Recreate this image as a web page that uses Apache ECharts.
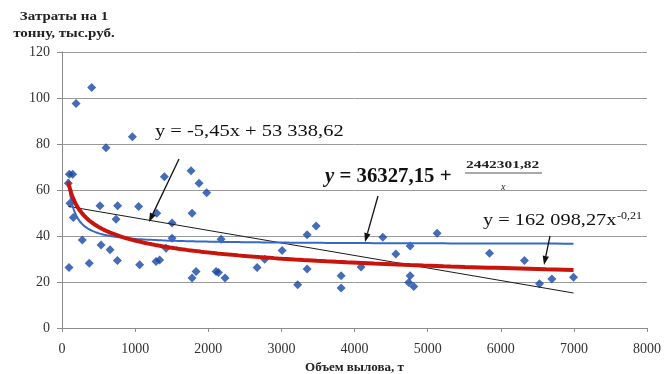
<!DOCTYPE html>
<html>
<head>
<meta charset="utf-8">
<script src="https://cdn.jsdelivr.net/npm/echarts@6/dist/echarts.min.js"></script>
<style>
  html, body { margin: 0; padding: 0; background: #fff; }
  #chart { width: 672px; height: 374px; }
</style>
</head>
<body>
<div id="chart"></div>
<script>
// Catch volume (t) per enterprise and cost per tonne (thousand rubles)
const volumes = [192, 406, 962, 602, 100, 146, 86, 109, 155, 278,
  96, 520, 761, 739, 534, 657, 757, 373, 1048, 1062,
  1296, 1286, 1335, 1400, 1505, 1505, 1423, 1765, 1874, 1979,
  1779, 2175, 1833, 1779, 2107, 2139, 2230, 2668, 2772, 3010,
  3223, 3352, 3475, 3352, 3817, 3817, 4090, 4387, 4565, 4761,
  4761, 4742, 4810, 5130, 5846, 6324, 6530, 6699, 6995];
const costs = [97.6, 104.6, 83.1, 78.4, 66.9, 66.9, 62.9, 54.2, 48.0, 38.3,
  26.3, 53.1, 53.1, 47.3, 36.1, 34.0, 29.3, 28.2, 52.8, 27.5,
  49.9, 28.9, 29.6, 65.8, 45.6, 39.0, 34.7, 68.4, 62.9, 58.8,
  49.9, 38.6, 24.6, 21.7, 24.6, 24.1, 21.7, 26.3, 29.9, 33.7,
  18.8, 40.5, 44.4, 25.6, 22.7, 17.4, 26.5, 39.5, 32.2, 35.7,
  22.7, 19.8, 18.0, 41.2, 32.5, 29.3, 19.2, 21.3, 22.1];

// Trend equations (y in rubles) — plotted in thousand rubles
const linearCoef = [-5.45, 53338.62];        // y = a*x + b
const hyperbolaCoef = [36327.15, 2442301.82]; // y = a + b/x
const powerCoef = [162098.27, -0.21];         // y = a*x^b
const rubPerUnit = 1000;

const xMin = Math.min(...volumes);
const xMax = Math.max(...volumes);

function sampleTrend(fn) {
  const pts = [];
  const n = 240;
  for (let i = 0; i <= n; i++) {
    const x = xMin * Math.pow(xMax / xMin, i / n);
    pts.push([x, fn(x) / rubPerUnit]);
  }
  return pts;
}
const linearLine = [xMin, xMax].map(x => [x, (linearCoef[0] * x + linearCoef[1]) / rubPerUnit]);
const hyperbolaLine = sampleTrend(x => hyperbolaCoef[0] + hyperbolaCoef[1] / x);
const powerLine = sampleTrend(x => powerCoef[0] * Math.pow(x, powerCoef[1]));

const serif = '"Liberation Serif", "Times New Roman", serif';
const arrow = (x1, y1, x2, y2) => {
  const ang = Math.atan2(y2 - y1, x2 - x1);
  const L = 9, W = 3.2;
  const bx = x2 - L * Math.cos(ang), by = y2 - L * Math.sin(ang);
  const px = -Math.sin(ang) * W, py = Math.cos(ang) * W;
  return [
    { type: 'line', shape: { x1, y1, x2: bx, y2: by }, style: { stroke: '#111', lineWidth: 1.3 }, z: 20 },
    { type: 'polygon', shape: { points: [[x2, y2], [bx + px, by + py], [bx - px, by - py]] }, style: { fill: '#111' }, z: 20 }
  ];
};
const plain = v => String(v);

const chart = echarts.init(document.getElementById('chart'));
chart.setOption({
  animation: false,
  backgroundColor: '#fff',
  grid: { left: 62, right: 25, top: 52, bottom: 46, outerBoundsMode: 'none', containLabel: false },
  xAxis: {
    type: 'value', min: 0, max: 8000, interval: 1000,
    splitLine: { show: false },
    axisLine: { lineStyle: { color: '#8c8c8c', width: 1 } },
    axisTick: { show: true, inside: false, length: 4, lineStyle: { color: '#8c8c8c' } },
    axisLabel: { fontFamily: serif, fontSize: 14, color: '#333', margin: 14, formatter: plain },
    name: 'Объем вылова, т', nameLocation: 'middle', nameGap: 25,
    nameTextStyle: { fontFamily: serif, fontSize: 13, fontWeight: 'bold', color: '#222' }
  },
  yAxis: {
    type: 'value', min: 0, max: 120, interval: 20,
    splitLine: { show: true, lineStyle: { color: '#9a9a9a', width: 1 } },
    axisLine: { show: true, lineStyle: { color: '#8c8c8c', width: 1 } },
    axisTick: { show: true, inside: false, length: 5, lineStyle: { color: '#8c8c8c' } },
    axisLabel: { fontFamily: serif, fontSize: 14, color: '#333', margin: 12, formatter: plain }
  },
  series: [
    {
      type: 'scatter', name: 'points',
      data: volumes.map((v, i) => [v, costs[i]]),
      symbol: 'diamond', symbolSize: 9,
      itemStyle: { color: '#1747a6' }, z: 3
    },
    {
      type: 'line', name: 'linear', data: linearLine, showSymbol: false,
      lineStyle: { color: '#1a1a1a', width: 1 }, z: 4
    },
    {
      type: 'line', name: 'hyperbola', data: hyperbolaLine, showSymbol: false,
      lineStyle: { color: '#3469c8', width: 2 }, z: 5
    },
    {
      type: 'line', name: 'power', data: powerLine, showSymbol: false,
      lineStyle: { color: '#c8140c', width: 4 }, z: 6
    }
  ],
  graphic: [
    {
      type: 'text', x: 64, y: 8, scaleX: 1.25, z: 20,
      style: { text: 'Затраты на 1\nтонну, тыс.руб.', font: 'bold 12px ' + serif, fill: '#222', lineHeight: 17, align: 'center' }
    },
    {
      type: 'text', x: 155, y: 124, scaleX: 1.28, z: 20,
      style: { text: 'y = -5,45x + 53 338,62', font: '16px ' + serif, fill: '#111' }
    },
    {
      type: 'text', x: 325, y: 167, scaleX: 1.04, z: 20,
      style: {
        text: '{i|y} = 36327,15 +',
        font: 'bold 20px ' + serif, fill: '#111',
        rich: { i: { fontStyle: 'italic', fontWeight: 'bold', fontSize: 20, fontFamily: serif } }
      }
    },
    {
      type: 'text', x: 466, y: 160, scaleX: 1.4, z: 20,
      style: { text: '2442301,82', font: 'bold 11px ' + serif, fill: '#222' }
    },
    { type: 'line', shape: { x1: 465, y1: 173, x2: 542, y2: 173 }, style: { stroke: '#555', lineWidth: 1 }, z: 20 },
    {
      type: 'text', x: 501, y: 182, z: 20,
      style: { text: 'x', font: 'italic 10px ' + serif, fill: '#222' }
    },
    {
      type: 'text', x: 483, y: 213, scaleX: 1.27, z: 20,
      style: { text: 'y = 162 098,27x', font: '16px ' + serif, fill: '#111' }
    },
    {
      type: 'text', x: 617, y: 211, scaleX: 1.2, z: 20,
      style: { text: '-0,21', font: '10px ' + serif, fill: '#111' }
    },
    ...arrow(179, 159, 149, 222),
    ...arrow(378, 196, 365, 242),
    ...arrow(550, 236, 544, 265)
  ]
});
</script>
</body>
</html>
